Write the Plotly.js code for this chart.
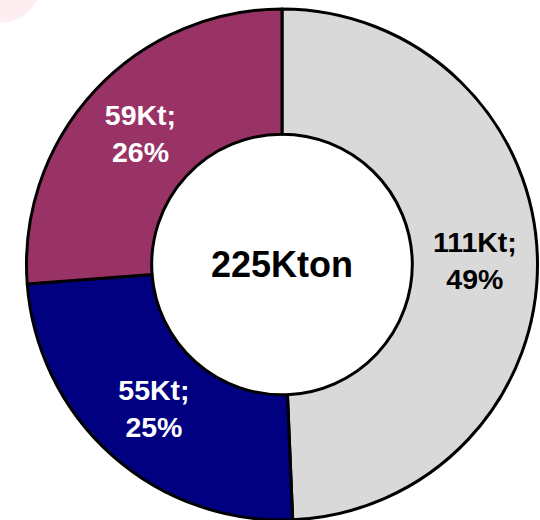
<!DOCTYPE html>
<html>
<head>
<meta charset="utf-8">
<script src="https://cdn.plot.ly/plotly-3.0.1.min.js"></script>
<style>html,body{margin:0;padding:0;background:#fff;}#chart{width:540px;height:520px;}</style>
</head>
<body>
<div id="chart"></div>
<script>
var categories = ["A", "B", "C"];
var valuesKt = [111, 55, 59];
var pctLabels = ["49%", "25%", "26%"];
var totalLabel = "225Kton";
var sliceColors = ["#D9D9D9", "#000080", "#993366"];
var textColors = ["#000000", "#FFFFFF", "#FFFFFF"];

var texts = valuesKt.map(function(v, i){ return v + "Kt;<br>" + pctLabels[i]; });

var trace = {
  type: "pie",
  labels: categories,
  values: valuesKt,
  text: texts,
  texttemplate: "%{text}",
  textinfo: "text",
  textposition: "inside",
  insidetextorientation: "horizontal",
  hole: 0.51,
  sort: false,
  direction: "clockwise",
  rotation: 0,
  marker: {colors: sliceColors, line: {color: "#000000", width: 3}},
  textfont: {family: "Liberation Sans, Arial, sans-serif", size: 28.5, color: textColors, weight: "bold"},
  showlegend: false,
  hoverinfo: "none"
};

var layout = {
  width: 540, height: 520,
  margin: {l: 26, r: 2, t: 9, b: 0, pad: 0},
  paper_bgcolor: "#FFFFFF",
  plot_bgcolor: "#FFFFFF",
  showlegend: false,
  shapes: [{
    type: "circle", xref: "paper", yref: "paper",
    x0: -0.131, x1: 0.030, y0: 0.9726, y1: 1.134,
    fillcolor: "#FEEEF1", line: {width: 0}, layer: "below"
  }],
  annotations: [{
    text: "<b>" + totalLabel + "</b>",
    x: 0.5, y: 0.5, xref: "paper", yref: "paper",
    showarrow: false,
    font: {family: "Liberation Sans, Arial, sans-serif", size: 36, color: "#000000"}
  }]
};

Plotly.newPlot("chart", [trace], layout, {displayModeBar: false, staticPlot: true});
</script>
</body>
</html>
